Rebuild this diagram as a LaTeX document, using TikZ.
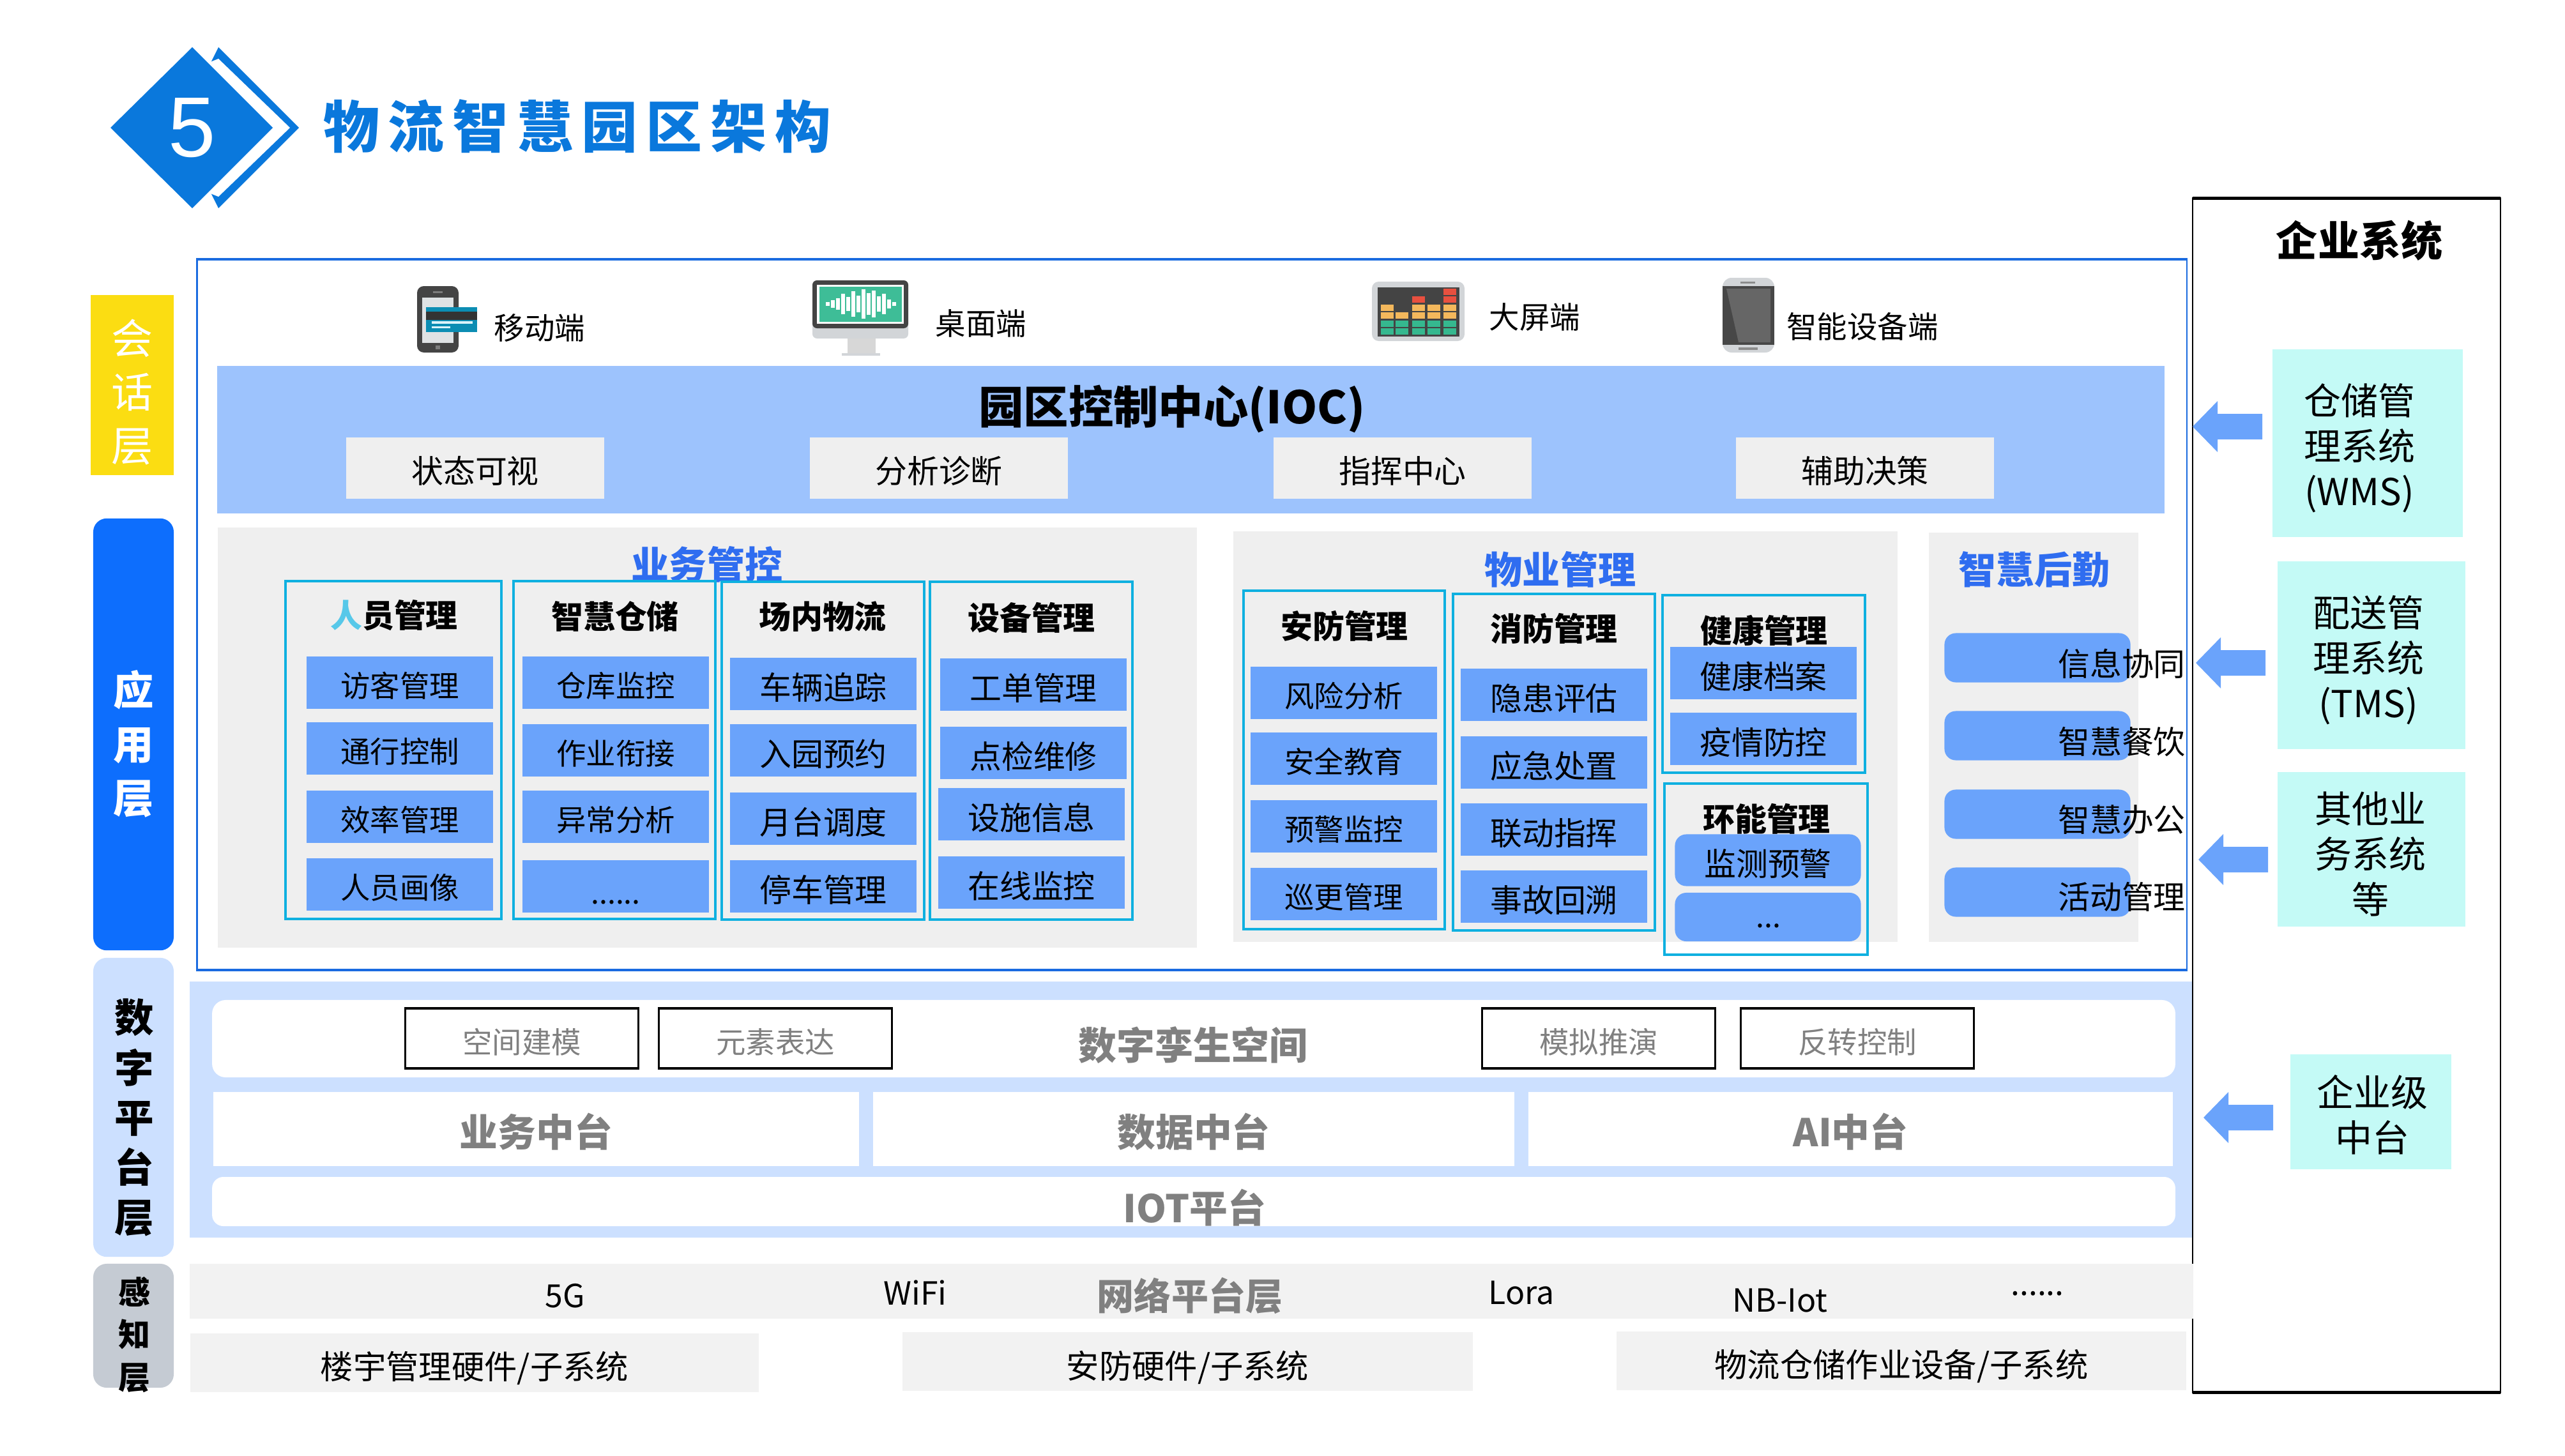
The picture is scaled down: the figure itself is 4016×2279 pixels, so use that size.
\documentclass[tikz,border=0pt]{standalone}
\usepackage{fontspec}
\usepackage{xcolor}
\setmainfont{Noto Sans CJK SC}
\newfontfamily\numfont{Liberation Sans}
\newfontfamily\titlefont[LetterSpace=15]{Noto Sans CJK SC}

\definecolor{titleblue}{HTML}{0A78DC}
\definecolor{framemain}{HTML}{1A6BE0}
\definecolor{bandblue}{HTML}{9DC3FD}
\definecolor{itemblue}{HTML}{6AA3FB}
\definecolor{headblue}{HTML}{2F6DF0}
\definecolor{pillblue}{HTML}{0D6EFD}
\definecolor{paleblue}{HTML}{CCE0FF}
\definecolor{pillgray}{HTML}{C5CBD3}
\definecolor{panelgray}{HTML}{EFEFEF}
\definecolor{netgray}{HTML}{F2F2F2}
\definecolor{linecyan}{HTML}{0FB0E0}
\definecolor{entcyan}{HTML}{C4FAF6}
\definecolor{sunyellow}{HTML}{FBDD12}
\definecolor{icondark}{HTML}{444444}
\definecolor{iconlight}{HTML}{D2D5D8}
\definecolor{screengreen}{HTML}{3EBD97}
\definecolor{bargreen}{HTML}{35B88F}
\definecolor{baryellow}{HTML}{F4B85C}
\definecolor{barred}{HTML}{E8503F}

\begin{document}
\begin{tikzpicture}[
	x = 0.01cm,
	y = -0.01cm,
	every node/.style = {inner sep = 0pt, outer sep = 0pt},
	txt/.style = {font = \fontsize{14.2}{17}\selectfont},
	small/.style = {font = \fontsize{13.2}{16}\selectfont},
	iconlabel/.style = {font = \fontsize{13.5}{16}\selectfont},
	head/.style = {font = \bfseries\fontsize{14.2}{17}\selectfont},
	blockhead/.style = {font = \bfseries\fontsize{16.8}{20}\selectfont, text = headblue},
	graytxt/.style = {font = \bfseries\fontsize{17}{20}\selectfont, text = black!50},
	enttxt/.style = {align = center, font = \fontsize{16.5}{20.2}\selectfont},
	item/.style = {fill = itemblue, minimum width = 2.91cm, minimum height = 0.81cm, small, text height = 0.51cm, text depth = 0.06cm},
	bigitem/.style = {item, txt, text height = 0.54cm},
	softitem/.style = {bigitem, rounded corners = 5pt},
	btn/.style = {fill = panelgray, minimum width = 4.03cm, minimum height = 0.95cm, txt, text height = 0.52cm, text depth = 0.06cm},
	col/.style = {draw = linecyan, line width = 0.9pt},
	twin/.style = {draw = black, line width = 0.9pt, fill = white, minimum width = 3.65cm, minimum height = 0.94cm,
		small, text = black!50, text height = 0.53cm, text depth = 0.06cm},
	midbox/.style = {fill = white, minimum height = 1.16cm, graytxt, text height = 0.62cm, text depth = 0.08cm},
	hardbox/.style = {fill = netgray, minimum height = 0.92cm, font = \fontsize{14.6}{18}\selectfont, text height = 0.58cm, text depth = 0.06cm},
	entbox/.style = {fill = entcyan, enttxt}
	]

	\useasboundingbox (0,0) rectangle (4016,2279);

	% title
	\fill[titleblue] (342,74) -- (468,200) -- (342,326) -- (329,300) -- (329,100) -- cycle;
	\fill[white] (342,92) -- (454,200) -- (342,308) -- (322,300) -- (322,100) -- cycle;
	\fill[titleblue] (173,200) -- (301,74) -- (427,200) -- (301,326) -- cycle;
	\node[text = white, font = \numfont\fontsize{38}{40}\selectfont] (num) at (301,200) {5};
	\node[text = titleblue, font = \titlefont\bfseries\fontsize{25}{29}\selectfont] (title) at (904,198) {物流智慧园区架构};

	% enterprise frame goes under the bands
	\node[draw = black, line width = 0.7pt, minimum width = 4.82cm, minimum height = 18.69cm] (ent) at (3674,1245.5) {};
	\draw[line width = 1.5pt] (ent.north west) -- (ent.north east);
	\draw[line width = 1.5pt] (ent.south west) -- (ent.south east);
	\node[font = \bfseries\fontsize{18.5}{22}\selectfont] (entTitle) at (3694,377) {企业系统};

	\node[entbox, minimum width = 2.97cm, minimum height = 2.93cm] (wms) at (3707,694) {};
	\node[enttxt] (wmsT) at (3694,702) {仓储管\\理系统\\(WMS)};
	\node[entbox, minimum width = 2.93cm, minimum height = 2.94cm] (tms) at (3713,1026) {};
	\node[enttxt] (tmsT) at (3708,1034) {配送管\\理系统\\(TMS)};
	\node[entbox, minimum width = 2.93cm, minimum height = 2.41cm] (oth) at (3713,1330) {};
	\node[enttxt] (othT) at (3711,1337) {其他业\\务系统\\等};
	\node[entbox, minimum width = 2.51cm, minimum height = 1.79cm] (mid) at (3712,1741) {};
	\node[enttxt] (midT) at (3714,1746) {企业级\\中台};

	\foreach \tipx/\tipy in {3433/668, 3438/1038, 3442/1346, 3450/1750}
		\fill[itemblue] (\tipx,\tipy) -- ++(39,-40) -- ++(0,20) -- ++(70,0) -- ++(0,40) -- ++(-70,0) -- ++(0,20) -- cycle;

	% left labels
	\node[fill = sunyellow, minimum width = 1.30cm, minimum height = 2.82cm] (lyHui) at (207,603) {};
	\node[text = white, align = center, font = \fontsize{18.5}{24}\selectfont] (lyHuiT) at (207,614) {会\\话\\层};
	\node[fill = pillblue, rounded corners = 6pt, minimum width = 1.26cm, minimum height = 6.76cm] (lyApp) at (209,1150) {};
	\node[text = white, align = center, font = \bfseries\fontsize{18}{24}\selectfont] (lyAppT) at (209,1165) {应\\用\\层};
	\node[fill = paleblue, rounded corners = 6pt, minimum width = 1.26cm, minimum height = 4.68cm] (lyDig) at (209,1734) {};
	\node[align = center, font = \bfseries\fontsize{17.5}{22.2}\selectfont] (lyDigT) at (210,1750) {数\\字\\平\\台\\层};
	\node[fill = pillgray, rounded corners = 6pt, minimum width = 1.26cm, minimum height = 1.94cm] (lyPer) at (209,2076) {};
	\node[align = center, font = \bfseries\fontsize{14.2}{19}\selectfont] (lyPerT) at (210,2090) {感\\知\\层};

	% application frame
	\node[draw = framemain, line width = 0.8pt, minimum width = 31.14cm, minimum height = 11.13cm] (app) at (1866,962.5) {};
	\draw[framemain, line width = 1.2pt] (app.north west) -- (app.north east);
	\draw[framemain, line width = 1.2pt] (app.south west) -- (app.south east);

	% phone
	\fill[icondark, rounded corners = 3pt] (653,448) rectangle (718,552);
	\fill[iconlight!70] (661,466) rectangle (710,537);
	\fill[icondark!70] (678,456) rectangle (693,459);
	\fill[icondark!70] (682,541) rectangle (689,547);
	\fill[black!80] (667,481) rectangle (747,520);
	\fill[linecyan!80!black] (667,481) rectangle (747,488);
	\fill[linecyan!80!black] (667,501) rectangle (747,520);
	\fill[white!85!linecyan] (676,503) rectangle (740,507);
	\fill[white!85!linecyan] (676,511) rectangle (705,514);
	\node[iconlabel] (mobile) at (845,514) {移动端};

	% monitor
	\fill[panelgray!90!black] (1327,528) rectangle (1371,553);
	\fill[iconlight] (1318,553) rectangle (1378,557);
	\fill[iconlight, rounded corners = 2pt] (1272,500) rectangle (1422,530);
	\fill[icondark, rounded corners = 2pt] (1272,439) rectangle (1422,514);
	\fill[white] (1279,446) rectangle (1415,507);
	\fill[screengreen] (1283,449) rectangle (1412,504);
	\foreach \wx/\wh in {1296/3, 1304/6, 1312/9, 1320/16, 1328/11, 1336/20, 1344/13, 1352/23, 1360/17, 1368/21, 1376/12, 1384/16, 1392/7, 1400/3}
		\draw[white, line width = 1.6pt] (\wx,476-\wh) -- (\wx,476+\wh);
	\node[iconlabel] (desktop) at (1536,507) {桌面端};

	% big screen
	\fill[iconlight, rounded corners = 3pt] (2148,441) rectangle (2293,534);
	\fill[icondark] (2157,450) rectangle (2285,527);
	\foreach \bx/\by/\bc in {2270/457/barred, 2221/469/barred, 2270/469/barred,
		2172/482/baryellow, 2221/482/baryellow, 2245/482/baryellow, 2270/482/baryellow,
		2172/494/baryellow, 2195/494/baryellow, 2221/494/baryellow, 2245/494/baryellow, 2270/494/baryellow,
		2172/507/bargreen, 2195/507/bargreen, 2221/507/bargreen, 2245/507/bargreen, 2270/507/bargreen,
		2172/519/bargreen, 2195/519/bargreen, 2221/519/bargreen, 2245/519/bargreen, 2270/519/bargreen}
		\fill[\bc] (\bx-10,\by-5) rectangle (\bx+10,\by+5);
	\node[iconlabel] (wall) at (2403,497) {大屏端};

	% device
	\fill[iconlight, rounded corners = 4pt] (2697,435) rectangle (2778,552);
	\fill[black!72] (2697,448) rectangle (2778,540);
	\fill[black!60] (2703,452) -- (2772,452) -- (2772,536) -- (2722,536) -- cycle;
	\fill[black!45] (2725,441) rectangle (2748,444);
	\fill[black!45] (2722,544) rectangle (2752,548);
	\node[iconlabel] (device) at (2916,511) {智能设备端};

	% IOC
	\node[fill = bandblue, minimum width = 30.47cm, minimum height = 2.31cm] (ioc) at (1864.5,688.5) {};
	\node[font = \bfseries\fontsize{20}{24}\selectfont] (iocT) at (1835,640) {园区控制中心(IOC)};
	\foreach \nm/\px/\tx in {state/744/状态可视, diag/1470/分析诊断, cmd/2196/指挥中心, aid/2920/辅助决策}
		\node[btn] (\nm) at (\px,733) {\tx};

	% business block
	\node[fill = panelgray, minimum width = 15.33cm, minimum height = 6.58cm] (biz) at (1107.5,1155) {};
	\node[blockhead] (bizT) at (1107,884) {业务管控};
	\foreach \xa/\xb/\ya/\yb in {447/785/910/1439, 804/1120/910/1439, 1130/1447/911/1440, 1456/1773/911/1440}
		\draw[col] (\xa,\ya) rectangle (\xb,\yb);
	\node[head] (hdPeople) at (617,964) {\textcolor{linecyan!70!white}{人}员管理};
	\node[head] (hdStore) at (963,965) {智慧仓储};
	\node[head] (hdYard) at (1288,965) {场内物流};
	\node[head] (hdDev) at (1615,967) {设备管理};
	\foreach \nm/\px/\py/\tx in {p1/626/1069/访客管理, p2/626/1172/通行控制, p3/626/1279/效率管理, p4/626/1385/人员画像,
		s1/964/1069/仓库监控, s2/964/1175/作业衔接, s3/964/1279/异常分析}
		\node[item] (\nm) at (\px,\py) {\tx};
	\foreach \nm/\px/\py/\tx in {y1/1289/1071/车辆追踪, y2/1289/1175/入园预约, y3/1289/1282/月台调度, y4/1289/1388/停车管理,
		d1/1618/1072/工单管理, d2/1618/1179/点检维修, d3/1615/1275/设施信息, d4/1615/1382/在线监控}
		\node[bigitem] (\nm) at (\px,\py) {\tx};
	\node[item, text height = 0.6cm] (s4) at (964,1388) {......};

	% property block
	\node[fill = panelgray, minimum width = 10.40cm, minimum height = 6.43cm] (prop) at (2451,1153.5) {};
	\node[blockhead] (propT) at (2443,892) {物业管理};
	\draw[col] (1947,925) rectangle (2262,1455);
	\draw[col] (2275,930) rectangle (2591,1457);
	\draw[col] (2603,932) rectangle (2920,1210);
	\draw[col] (2606,1227) rectangle (2924,1495);
	\node[head] (hdSafe) at (2105,980) {安防管理};
	\node[head] (hdFire) at (2433,984) {消防管理};
	\node[head] (hdHealth) at (2762,987) {健康管理};
	\node[head] (hdEnergy) at (2766,1282) {环能管理};
	\foreach \nm/\px/\py/\tx in {a1/2104/1085/风险分析, a2/2104/1188/安全教育, a3/2104/1294/预警监控, a4/2104/1400/巡更管理}
		\node[item] (\nm) at (\px,\py) {\tx};
	\foreach \nm/\px/\py/\tx in {f1/2433/1088/隐患评估, f2/2433/1194/应急处置, f3/2433/1299/联动指挥, f4/2433/1404/事故回溯,
		h1/2761/1054/健康档案, h2/2761/1157/疫情防控}
		\node[bigitem] (\nm) at (\px,\py) {\tx};
	\node[softitem] (e1) at (2768,1347) {监测预警};
	\node[softitem, minimum height = 0.76cm] (e2) at (2768,1436) {};
	\node[small] (e2T) at (2769,1450) {...};

	% logistics block
	\node[fill = panelgray, minimum width = 3.28cm, minimum height = 6.41cm] (lg) at (3184,1154.5) {};
	\node[blockhead] (lgT) at (3185,892) {智慧后勤};
	\foreach \nm/\py/\ty/\tx in {l1/1030/1039/信息协同, l2/1152/1162/智慧餐饮, l3/1275/1284/智慧办公, l4/1397/1404/活动管理}{
		\node[softitem, minimum height = 0.77cm] (\nm) at (3190,\py) {};
		\node[txt] (\nm T) at (3322,\ty) {\tx};
	}

	% digital platform
	\node[fill = paleblue, minimum width = 31.33cm, minimum height = 4.01cm] (dig) at (1864.5,1737.5) {};
	\node[fill = white, rounded corners = 6pt, minimum width = 30.72cm, minimum height = 1.21cm] (twinbar) at (1869,1626.5) {};
	\node[graytxt] (twinT) at (1868,1637) {数字孪生空间};
	\foreach \nm/\px/\tx in {tw1/817/空间建模, tw2/1214/元素表达, tw3/2503/模拟推演, tw4/2908/反转控制}
		\node[twin] (\nm) at (\px,1626) {\tx};
	\node[midbox, minimum width = 10.11cm] (mBiz) at (839.5,1768) {业务中台};
	\node[midbox, minimum width = 10.04cm] (mData) at (1869,1768) {数据中台};
	\node[midbox, minimum width = 10.09cm] (mAI) at (2897.5,1768) {AI中台};
	\node[fill = white, rounded corners = 5pt, minimum width = 30.72cm, minimum height = 0.77cm] (iotbar) at (1869,1881.5) {};
	\node[graytxt] (iotT) at (1870,1891) {IOT平台};

	% network and hardware
	\node[fill = netgray, minimum width = 31.35cm, minimum height = 0.86cm] (net) at (1865.5,2022) {};
	\node[txt] (n5g) at (885,2029) {5G};
	\node[txt] (nwifi) at (1433,2024) {WiFi};
	\node[graytxt, font = \fontsize{16.5}{20}\selectfont\bfseries] (netT) at (1863,2029) {网络平台层};
	\node[txt] (nlora) at (2382,2024) {Lora};
	\node[txt] (nnb) at (2787,2036) {NB-Iot};
	\node[txt] (ndots) at (3190,2026) {......};
	\node[hardbox, minimum width = 8.90cm] (hwBuild) at (743,2133.5) {楼宇管理硬件/子系统};
	\node[hardbox, minimum width = 8.93cm] (hwSafe) at (1859.5,2132) {安防硬件/子系统};
	\node[hardbox, minimum width = 8.92cm] (hwLog) at (2977,2130.5) {物流仓储作业设备/子系统};

\end{tikzpicture}
\end{document}
